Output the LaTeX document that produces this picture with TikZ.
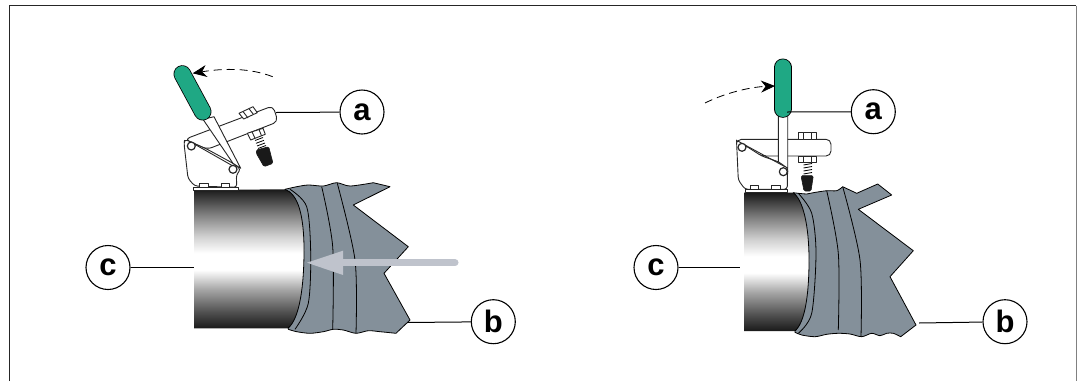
\documentclass[tikz,border=0pt]{standalone}
\usepackage{fontspec}
\setmainfont{Liberation Sans}
\usetikzlibrary{arrows.meta}

\definecolor{hosegrey}{HTML}{84909A}
\definecolor{gripgreen}{HTML}{1FA884}
\definecolor{pusharrow}{HTML}{BFC3CC}
\pgfdeclareverticalshading{tubegrad}{100bp}{
	color(0bp)=(black!90);
	color(25bp)=(black!90);
	color(31bp)=(black!68);
	color(39bp)=(black!35);
	color(46bp)=(white);
	color(52bp)=(white);
	color(58bp)=(black!18);
	color(66bp)=(black!50);
	color(75bp)=(black!90);
	color(100bp)=(black!90)}

\begin{document}
\begin{tikzpicture}[x=0.5pt,y=-0.5pt,>=Stealth,line join=round]
	\tikzstyle{callout}=[circle, draw=black, line width=0.55pt, fill=white, minimum size=22pt, inner sep=0pt, font=\fontsize{15.5}{16}\selectfont\bfseries]
	\tikzstyle{leader}=[line width=0.5pt, black]
	\tikzstyle{hose}=[draw=black, line width=0.4pt, fill=hosegrey]
	\tikzstyle{fold}=[draw=black, line width=0.4pt]
	\tikzstyle{tube}=[shading=tubegrad]
	\tikzstyle{part}=[draw=black!85, line width=0.45pt, fill=white]
	\tikzstyle{pivot}=[draw=black!85, line width=0.6pt, fill=white]
	\tikzstyle{tip}=[fill=black!90, draw=black!90, line width=0.3pt, rounded corners=0.7pt]
	\tikzstyle{swing}=[line width=0.4pt, dash pattern=on 4pt off 2.5pt, -{Stealth[length=7pt,width=6pt]}]

	\useasboundingbox (0,0) rectangle (1077,381);

	% frame
	\draw [line width=0.7pt, black!85] (9.5,381) -- (9.5,5.5) -- (1076,5.5);
	\draw [line width=0.5pt, black!50] (1076,5.5) -- (1076,381);

	% left view: hose and tube
	\draw [hose] plot [smooth] coordinates {(285,189.3) (296.7,186.7) (308.3,185) (323.3,186) (336.7,182.7) (350,186) (373.3,182.7)}
		-- (390,186.7) -- (353.3,205) -- (408.3,246.7) -- (384,273.3) -- (410,320) -- (396,333.3)
		-- plot [smooth] coordinates {(396,333.3) (380,331.7) (368.3,330.7) (356,333.3) (343.3,330) (333.3,329.3) (323.3,331.7) (310,333.3) (296.7,331.7) (288.3,329.3)} -- cycle;
	\draw [fold] plot [smooth] coordinates {(290,189.3) (306.7,206.7) (310.7,253.3) (308.3,303.3) (295,329.3)};
	\draw [fold] plot [smooth] coordinates {(321.7,186.7) (332.7,246.7) (332.7,329.3)};
	\draw [fold] plot [smooth] coordinates {(337.3,183.3) (355,260) (356,333.3)};
	\path [tube] (194,190) -- (285,189.3) .. controls (298,194) and (304,215) .. (304,250) .. controls (304,285) and (300,318) .. (288,328.3) -- (194,328.3) -- cycle;
	\draw [fold] (285,189.3) .. controls (298,194) and (304,215) .. (304,250) .. controls (304,285) and (300,318) .. (288,328.3);
	\draw [line width=3.5pt, pusharrow, line cap=round] (455,262.7) -- (340,262.7);
	\fill [pusharrow] (307,262.7) -- (343,250.7) -- (343,275) -- cycle;

	% left view: clamp
	\draw [part, rounded corners=2.5pt] (207.3,149.3) -- (278,121.7) -- (273,105.8) -- (184.7,139.3) -- cycle;
	\draw [part] (239,113.3) -- (253,106.7) -- (257.3,112.7) -- (243.7,119) -- cycle;
	\draw [part] (243,111.5) -- (248,118) (249,108.7) -- (253.5,114.5);
	\draw [part] (247.3,133.3) -- (263,128.3) -- (265.3,134.3) -- (250.7,140) -- cycle;
	\draw [part] (252,131.8) -- (255,138.3) (259,129.5) -- (261.5,135.8);
	\draw [line width=0.4pt] (255,140.5) -- (263,137.5) (256,143.3) -- (264,140.3) (257,146) -- (265,143) (258,148.5) -- (266,145.5);
	\draw [tip] (256.3,150) -- (268.7,146.7) -- (273,163.3) -- (264,166.7) -- (256.3,153.3) -- cycle;
	\draw [part, rounded corners=1.5pt] (184.7,139.3) -- (184,143.3) -- (188,178.3) -- (194.7,186) -- (236.8,187.3) -- (236.3,175) -- (240.7,169.3) -- (233,163.3) -- (207.3,149.3) -- cycle;
	\draw [part] (193,187.3) rectangle (238,190.7);
	\draw [part] (199.7,183.3) rectangle (208,187.3);
	\draw [part] (221.3,183.3) rectangle (229.7,187.3);
	\draw [line width=0.45pt, black!85] (193,143.3) -- (233,166);
	\draw [part] (203,119.3) -- (214,116.7) -- (240.7,168.3) -- (233,163.3) -- cycle;
	\draw [pivot] (191.3,146) circle (4);
	\draw [pivot] (233,169.3) circle (4);
	\draw [line width=8.8pt, black, line cap=round] (182.3,74) -- (202.7,111.7);
	\draw [line width=8pt, gripgreen, line cap=round] (182.3,74) -- (202.7,111.7);
	\draw [swing] (272.7,76.7) .. controls (250,68) and (225,68) .. (192.7,73.3);

	% right view: hose and tube
	\draw [hose] plot [smooth] coordinates {(793.3,192.7) (806.7,194) (813.3,192.7) (826.7,190.7) (836.7,190.7) (842.7,186.7)}
		-- (856.7,193.3) -- (877.7,184) -- (891.7,195) -- (858.3,209.3) -- (913.3,250.7) -- (890,276.7) -- (916,325) -- (900.7,336.7)
		-- plot [smooth] coordinates {(900.7,336.7) (893.3,333.3) (886.7,333.3) (880,335.7) (871.7,333.3) (861.7,336.7) (850,334) (838.3,333.3) (826.7,334.3) (815,336.7) (801.7,335) (795,332.3)} -- cycle;
	\draw [fold] plot [smooth] coordinates {(798.3,193.3) (811.7,213.3) (816,253.3) (811.7,313.3) (798.3,333.3)};
	\draw [fold] plot [smooth] coordinates {(826.7,190.7) (838.3,253.3) (838.3,330)};
	\draw [fold] plot [smooth] coordinates {(842.7,186.7) (860,260) (861,336.7)};
	\path [tube] (744,192.7) -- (793.3,192.7) .. controls (803,200) and (809,225) .. (809,260) .. controls (809,295) and (805,322) .. (795,331) -- (744,331) -- cycle;
	\draw [fold] (793.3,192.7) .. controls (803,200) and (809,225) .. (809,260) .. controls (809,295) and (805,322) .. (795,331);

	% right view: clamp
	\draw [part, rounded corners=2.5pt] (761.7,156) -- (831,156) -- (831,139.3) -- (736.5,139.3) -- (736.5,145) -- cycle;
	\draw [part] (798.3,132.7) rectangle (816,139.3);
	\draw [part] (803,132.7) -- (803,139.3) (811.5,132.7) -- (811.5,139.3);
	\draw [part] (798.3,156) rectangle (816,162.3);
	\draw [part] (803,156) -- (803,162.3) (811.5,156) -- (811.5,162.3);
	\draw [line width=0.4pt] (803.5,165) -- (812,163.5) (803.5,168) -- (812,166.5) (803.5,171) -- (812,169.5) (803.5,174) -- (812,172.5);
	\draw [tip] (801,175.7) -- (813.3,175.7) -- (811,191) -- (804,191) -- cycle;
	\draw [part, rounded corners=1.5pt] (736.5,140) -- (738.3,180) -- (745,189.3) -- (787.3,189.3) -- (787.3,175) -- (788.3,168.3) -- (778.3,161.7) -- (761.7,156) -- cycle;
	\draw [part] (745,189.3) rectangle (787.3,192.3);
	\draw [part] (750,185) rectangle (758.3,189.3);
	\draw [part] (771.7,185) rectangle (780,189.3);
	\draw [line width=0.45pt, black!85] (745,145) -- (785,166.7);
	\draw [part] (778.3,115) -- (787.7,115) -- (787.7,168.3) -- (778.3,161.7) -- cycle;
	\draw [pivot] (742,147.3) circle (4);
	\draw [pivot] (783.3,171.7) circle (4);
	\draw [line width=8.8pt, black, line cap=round] (782.7,67.3) -- (782.7,109);
	\draw [line width=8pt, gripgreen, line cap=round] (782.7,67.3) -- (782.7,109);
	\draw [swing] (705,103) .. controls (725,93) and (750,87) .. (775,86);

	% callouts
	\node [callout] (a1) at (362,112) {a};
	\node [callout] (b1) at (493.3,321.7) {b};
	\node [callout] (c1) at (108,267.5) {c};
	\node [callout] (a2) at (873.3,111.7) {a};
	\node [callout] (b2) at (1005,321.7) {b};
	\node [callout] (c2) at (656,267.5) {c};

	\coordinate (a1end) at (276,112.5);
	\coordinate (b1end) at (407,322.5);
	\coordinate (c1end) at (194,267.5);
	\coordinate (a2end) at (787,112);
	\coordinate (b2end) at (919,323);
	\coordinate (c2end) at (740,267.5);

	\draw [leader] (a1) -- (a1end);
	\draw [leader] (b1) -- (b1end);
	\draw [leader] (c1) -- (c1end);
	\draw [leader] (a2) -- (a2end);
	\draw [leader] (b2) -- (b2end);
	\draw [leader] (c2) -- (c2end);
\end{tikzpicture}
\end{document}
